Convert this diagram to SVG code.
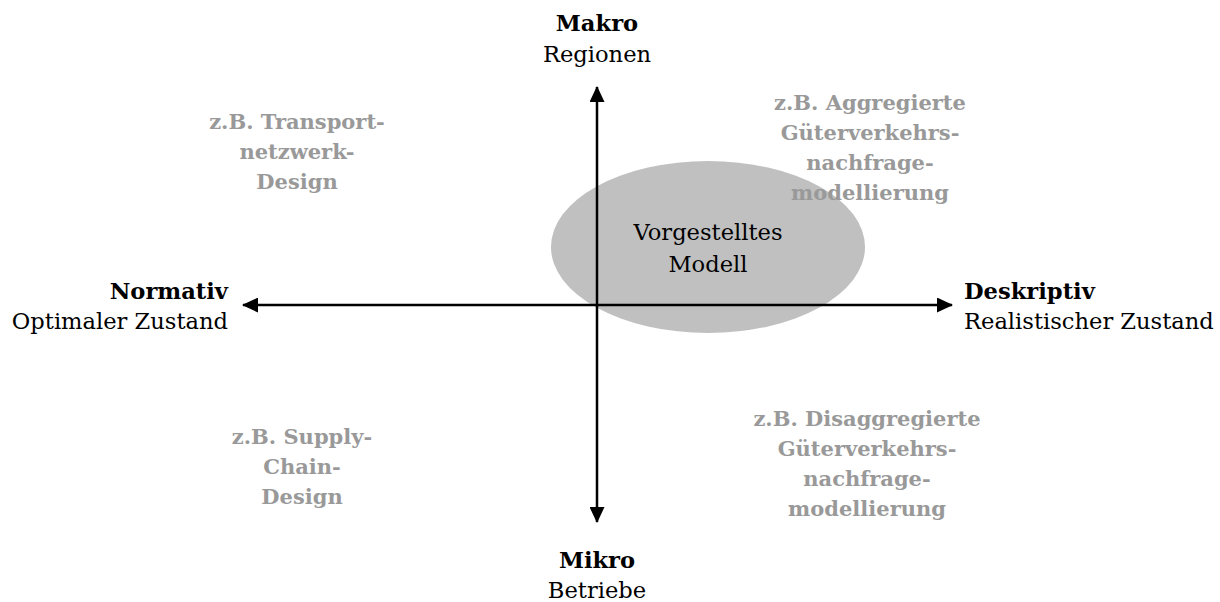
<svg xmlns="http://www.w3.org/2000/svg" width="1220" height="602" viewBox="0 0 1220 602">
<defs>
<marker id="ah" viewBox="0 0 16 15" refX="15" refY="7.5" markerWidth="16" markerHeight="15" markerUnits="userSpaceOnUse" orient="auto-start-reverse">
<path d="M0,0 L16,7.5 L0,15 Z" fill="#000"/>
</marker>
</defs>
<style>
text { font-family: "DejaVu Serif", "Liberation Serif", serif; font-size: 22.6px; fill: #000; }
.b { font-weight: bold; }
.g { font-weight: bold; fill: #999999; font-size: 21px; }
.axis { stroke: #000; stroke-width: 2.5; fill: none; }
</style>
<rect width="1220" height="602" fill="#fff"/>
<g id="model">
<ellipse cx="708" cy="247" rx="157" ry="86" fill="#c0c0c0"/>
<text x="708" y="240" text-anchor="middle">Vorgestelltes</text>
<text x="708" y="272" text-anchor="middle">Modell</text>
</g>
<g id="connectors">
<line class="axis" x1="597" y1="522" x2="597" y2="87" marker-start="url(#ah)" marker-end="url(#ah)"/>
<line class="axis" x1="243" y1="305" x2="952" y2="305" marker-start="url(#ah)" marker-end="url(#ah)"/>
</g>
<g id="makro">
<text class="b" x="597" y="31" text-anchor="middle">Makro</text>
<text x="597" y="62" text-anchor="middle">Regionen</text>
</g>
<g id="mikro">
<text class="b" x="597" y="568" text-anchor="middle">Mikro</text>
<text x="597" y="598" text-anchor="middle">Betriebe</text>
</g>
<g id="normativ">
<text class="b" x="228" y="299" text-anchor="end">Normativ</text>
<text x="228" y="329" text-anchor="end">Optimaler Zustand</text>
</g>
<g id="deskriptiv">
<text class="b" x="964" y="299">Deskriptiv</text>
<text x="964" y="329">Realistischer Zustand</text>
</g>
<g id="transport">
<text class="g" x="297" y="129" text-anchor="middle">z.B. Transport-</text>
<text class="g" x="297" y="159" text-anchor="middle">netzwerk-</text>
<text class="g" x="297" y="189" text-anchor="middle">Design</text>
</g>
<g id="aggregiert">
<text class="g" x="870" y="110" text-anchor="middle">z.B. Aggregierte</text>
<text class="g" x="870" y="140" text-anchor="middle">Güterverkehrs-</text>
<text class="g" x="870" y="170" text-anchor="middle">nachfrage-</text>
<text class="g" x="870" y="200" text-anchor="middle">modellierung</text>
</g>
<g id="supply">
<text class="g" x="302" y="444" text-anchor="middle">z.B. Supply-</text>
<text class="g" x="302" y="474" text-anchor="middle">Chain-</text>
<text class="g" x="302" y="504" text-anchor="middle">Design</text>
</g>
<g id="disaggregiert">
<text class="g" x="867" y="426" text-anchor="middle">z.B. Disaggregierte</text>
<text class="g" x="867" y="456" text-anchor="middle">Güterverkehrs-</text>
<text class="g" x="867" y="486" text-anchor="middle">nachfrage-</text>
<text class="g" x="867" y="516" text-anchor="middle">modellierung</text>
</g>
</svg>
